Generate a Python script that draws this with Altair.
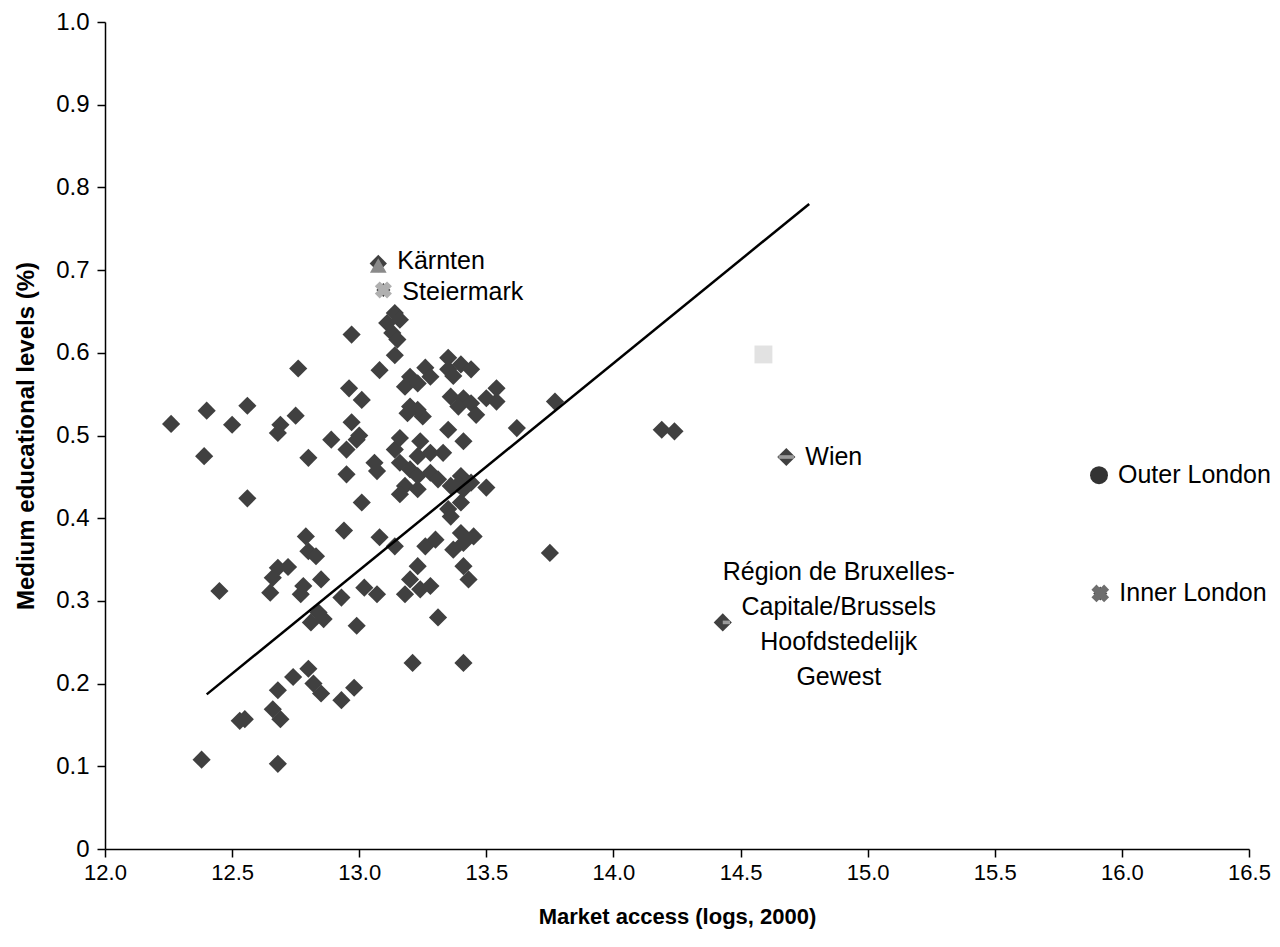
import altair as alt
import pandas as pd

# Regions (dark diamonds): market access (log) and medium education share
ma = [12.26, 12.40, 12.39, 12.50, 12.56, 12.56, 12.45, 12.38, 12.68, 12.53,
      12.55, 12.76, 12.75, 12.69, 12.68, 12.80, 12.97, 12.96, 13.01, 12.89,
      12.97, 12.99, 12.95, 12.95, 13.06, 13.07, 13.00, 13.14, 13.16, 13.01,
      13.14, 13.11, 13.16, 13.13, 13.15, 13.14, 13.08, 13.35, 13.20, 13.26,
      13.18, 13.23, 13.28, 13.35, 13.40, 13.44, 13.37, 13.54, 13.50, 13.54,
      13.36, 13.41, 13.39, 13.44, 13.46, 13.62, 13.20, 13.25, 13.23, 13.19,
      13.35, 13.41, 13.16, 13.24, 13.28, 13.33, 13.23, 13.20, 13.23, 13.28,
      13.31, 13.40, 13.44, 13.41, 13.36, 13.50, 13.18, 13.23, 13.16, 13.39,
      13.35, 13.36, 13.40, 12.94, 13.08, 12.79, 12.80, 12.83, 12.68, 12.72,
      12.66, 12.65, 12.85, 12.78, 12.77, 12.93, 13.02, 13.07, 12.84, 12.86,
      12.81, 12.99, 13.14, 12.80, 12.74, 12.82, 12.85, 12.68, 12.66, 12.69,
      12.93, 12.98, 13.26, 13.30, 13.40, 13.45, 13.37, 13.41, 13.23, 13.20,
      13.28, 13.18, 13.24, 13.41, 13.43, 13.31, 13.21, 13.41, 13.75, 13.77,
      14.19, 14.24]
edu = [0.514, 0.530, 0.475, 0.513, 0.536, 0.424, 0.312, 0.108, 0.103, 0.155,
       0.157, 0.581, 0.524, 0.513, 0.503, 0.473, 0.622, 0.557, 0.543, 0.495,
       0.516, 0.495, 0.483, 0.453, 0.467, 0.457, 0.500, 0.483, 0.467, 0.419,
       0.648, 0.636, 0.640, 0.624, 0.616, 0.597, 0.579, 0.594, 0.571, 0.582,
       0.559, 0.563, 0.571, 0.580, 0.586, 0.580, 0.572, 0.557, 0.545, 0.541,
       0.547, 0.545, 0.535, 0.539, 0.525, 0.509, 0.535, 0.523, 0.531, 0.527,
       0.507, 0.493, 0.497, 0.493, 0.479, 0.479, 0.475, 0.459, 0.451, 0.455,
       0.447, 0.451, 0.443, 0.435, 0.439, 0.437, 0.439, 0.435, 0.429, 0.441,
       0.411, 0.402, 0.419, 0.385, 0.377, 0.378, 0.360, 0.354, 0.340, 0.341,
       0.328, 0.310, 0.326, 0.318, 0.308, 0.304, 0.316, 0.308, 0.286, 0.278,
       0.274, 0.270, 0.366, 0.218, 0.208, 0.200, 0.188, 0.192, 0.169, 0.157,
       0.180, 0.195, 0.366, 0.374, 0.382, 0.378, 0.362, 0.370, 0.342, 0.326,
       0.318, 0.308, 0.314, 0.342, 0.326, 0.280, 0.225, 0.225, 0.358, 0.541,
       0.507, 0.505]

# Named regions
named = ["Kärnten", "Steiermark", "Wien", "Outer London", "Inner London"]
named_ma = [13.075, 13.095, 14.68, 15.91, 15.915]
named_edu = [0.708, 0.676, 0.474, 0.452, 0.309]
named_dy = [-2, 2, 0, 0, 0]

brussels_label = ["Région de Bruxelles-", "Capitale/Brussels", "Hoofdstedelijk", "Gewest"]
brussels_ma = 14.43
brussels_edu = 0.274

square_ma = [14.59]
square_edu = [0.598]

# Fitted line end points
fit_ma = [12.40, 14.77]
fit_edu = [0.187, 0.780]

x_ticks = [12.0, 12.5, 13.0, 13.5, 14.0, 14.5, 15.0, 15.5, 16.0, 16.5]
y_ticks = [0.0, 0.1, 0.2, 0.3, 0.4, 0.5, 0.6, 0.7, 0.8, 0.9, 1.0]

FONT = "Liberation Sans"
DARK = "#404040"
ANN = 25

xs = alt.Scale(domain=[12.0, 16.5], nice=False, zero=False)
ys = alt.Scale(domain=[0.0, 1.0], nice=False)

X = alt.X("x:Q", scale=xs,
          axis=alt.Axis(values=x_ticks, labelExpr="format(datum.value, '.1f')",
                        labelFlush=False, labelFontSize=22, labelPadding=5,
                        title="Market access (logs, 2000)", titleX=572, titleY=67,
                        titleFontSize=22,
                        titleBaseline="middle", titleAlign="center"))
Y = alt.Y("y:Q", scale=ys,
          axis=alt.Axis(values=y_ticks, labelFlush=False, labelFontSize=24, labelPadding=8,
                        labelExpr="datum.value == 0 ? '0' : format(datum.value, '.1f')",
                        title="Medium educational levels (%)", titleX=-79, titleY=413.5,
                        titleFontSize=24,
                        titleAngle=270, titleBaseline="middle", titleAlign="center"))

df = pd.DataFrame({"x": ma, "y": edu})
pts = alt.Chart(df).mark_point(shape="diamond", filled=True, size=330, color=DARK,
                               opacity=1, strokeWidth=0).encode(x=X, y=Y)

fit = alt.Chart(pd.DataFrame({"x": fit_ma, "y": fit_edu})).mark_line(
    color="black", strokeWidth=2.5).encode(x=X, y=Y)

nd = pd.DataFrame({"x": named_ma, "y": named_edu, "name": named, "dy": named_dy})

def one(i):
    return nd.iloc[[i]]

# Kärnten: dark diamond capped by grey triangle
k1 = alt.Chart(one(0)).mark_point(shape="diamond", filled=True, size=300, color=DARK,
                                  opacity=1, strokeWidth=0).encode(x=X, y=Y)
k2 = alt.Chart(one(0)).mark_point(shape="triangle-up", filled=True, size=280, color="#8a8a8a",
                                  opacity=1, strokeWidth=0, yOffset=2).encode(x=X, y=Y)
# Steiermark: small dark diamond with light grey X
s1 = alt.Chart(one(1)).mark_point(shape="diamond", filled=True, size=200, color=DARK,
                                  opacity=1, strokeWidth=0).encode(x=X, y=Y)
s2 = alt.Chart(one(1)).mark_point(shape="cross", angle=45, filled=True, size=300, color="#b0b0b0",
                                  opacity=1, strokeWidth=0).encode(x=X, y=Y)
# Wien: dark diamond with grey bar
w1 = alt.Chart(one(2)).mark_point(shape="diamond", filled=True, size=330, color=DARK,
                                  opacity=1, strokeWidth=0).encode(x=X, y=Y)
w2 = alt.Chart(one(2)).mark_point(shape="M-0.85,-0.2H0.85V0.2H-0.85Z", filled=True, size=330,
                                  color="#9a9a9a", opacity=1, strokeWidth=0).encode(x=X, y=Y)
# Outer London: dark circle
o1 = alt.Chart(one(3)).mark_point(shape="circle", filled=True, size=320, color="#333333",
                                  opacity=1, strokeWidth=0).encode(x=X, y=Y)
# Inner London: grey X over dark
i1 = alt.Chart(one(4)).mark_point(shape="diamond", filled=True, size=200, color="#505050",
                                  opacity=1, strokeWidth=0).encode(x=X, y=Y)
i2 = alt.Chart(one(4)).mark_point(shape="cross", angle=45, filled=True, size=320, color="#6e6e6e",
                                  opacity=1, strokeWidth=0).encode(x=X, y=Y)

label_layers = []
for i in range(len(named)):
    label_layers.append(
        alt.Chart(one(i)).mark_text(align="left", baseline="middle", dx=19, dy=named_dy[i],
                                    font=FONT, fontSize=ANN, color="black")
        .encode(x=X, y=Y, text="name:N"))

bd = pd.DataFrame({"x": [brussels_ma], "y": [brussels_edu], "label": [brussels_label]})
b1 = alt.Chart(bd).mark_point(shape="diamond", filled=True, size=330, color=DARK,
                              opacity=1, strokeWidth=0).encode(x=X, y=Y)
b2 = alt.Chart(bd).mark_point(shape="M0,-0.2H0.8V0.2H0Z", filled=True, size=330,
                              color="#9a9a9a", opacity=1, strokeWidth=0).encode(x=X, y=Y)
blab = alt.Chart(bd).mark_text(align="center", baseline="middle", dx=116, dy=-50,
                               lineHeight=35, font=FONT, fontSize=ANN,
                               color="black").encode(x=X, y=Y, text="label")

sq = alt.Chart(pd.DataFrame({"x": square_ma, "y": square_edu})).mark_point(
    shape="square", filled=True, size=320, color="#e2e2e2", opacity=1, strokeWidth=0).encode(x=X, y=Y)

chart = alt.layer(pts, fit, k1, k2, s1, s2, w1, w2, o1, i1, i2, b1, b2, sq, *label_layers, blab).properties(
    width=1144, height=827,
    autosize=alt.AutoSizeParams(type="none"),
    padding={"left": 105, "top": 22, "right": 31, "bottom": 98},
    background="white",
).configure_view(stroke=None).configure_axis(
    grid=False, domainColor="black", domainWidth=1.5, tickColor="black", tickWidth=1.5,
    tickSize=8, labelFont=FONT, labelColor="black", titleFont=FONT,
    titleFontWeight="bold", titleColor="black"
)

chart.save("out.html", embed_options={"renderer": "svg", "actions": False})
